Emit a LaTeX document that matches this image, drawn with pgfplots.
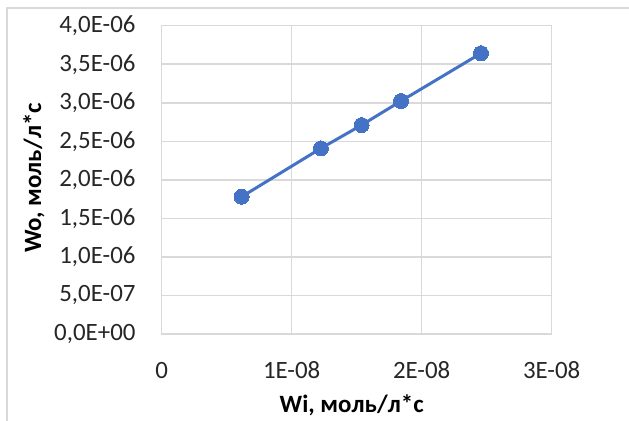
\documentclass[border=0pt]{standalone}
\usepackage{fontspec}
\setmainfont{Carlito}
\usepackage{pgfplots}
\pgfplotsset{compat=1.18}
\definecolor{serblue}{HTML}{4472C4}
\definecolor{gridgray}{HTML}{D9D9D9}
\begin{document}
\begin{tikzpicture}
\useasboundingbox (-161.7bp,-87bp) rectangle (467.3bp,334bp);
\draw[gridgray, line width=1.5bp] (-154.7bp,-90bp) -- (-154.7bp,326bp) -- (470bp,326bp);
\begin{axis}[
  at={(0,0)}, anchor=origin,
  scale only axis, width=390bp, height=308.3bp,
  xmin=0, xmax=3e-8, ymin=0, ymax=4e-6,
  scaled ticks=false,
  xtick={0,1e-8,2e-8,3e-8},
  xticklabels={0,1E-08,2E-08,3E-08},
  ytick={0,5e-7,1e-6,1.5e-6,2e-6,2.5e-6,3e-6,3.5e-6,4e-6},
  yticklabels={{0,0E+00},{5,0E-07},{1,0E-06},{1,5E-06},{2,0E-06},{2,5E-06},{3,0E-06},{3,5E-06},{4,0E-06}},
  tick style={draw=none},
  grid=major,
  major grid style={gridgray, line width=1.5bp},
  axis line style={gridgray, line width=1.5bp},
  ticklabel style={font=\fontsize{25}{30}\selectfont, text=black!85, inner sep=0pt},
  yticklabel style={anchor=east, xshift=-26bp},
  xticklabel style={anchor=base, yshift=-44.3bp},
  xlabel={\textbf{Wi, моль/л*с}},
  ylabel={\textbf{Wo, моль/л*с}},
  label style={font=\fontsize{25}{30}\selectfont, text=black},
  xlabel style={at={(190bp,-71bp)}, anchor=center},
  ylabel style={at={(-127.7bp,156bp)}, anchor=center, rotate=0},
]
\addplot[serblue, line width=3bp, mark=*, mark size=7.5bp, mark options={fill=serblue, draw=serblue, line width=0bp}]
coordinates {
(0.615e-8,1.781e-6)
(1.225e-8,2.409e-6)
(1.538e-8,2.711e-6)
(1.841e-8,3.023e-6)
(2.456e-8,3.642e-6)
};
\end{axis}
\end{tikzpicture}
\end{document}
